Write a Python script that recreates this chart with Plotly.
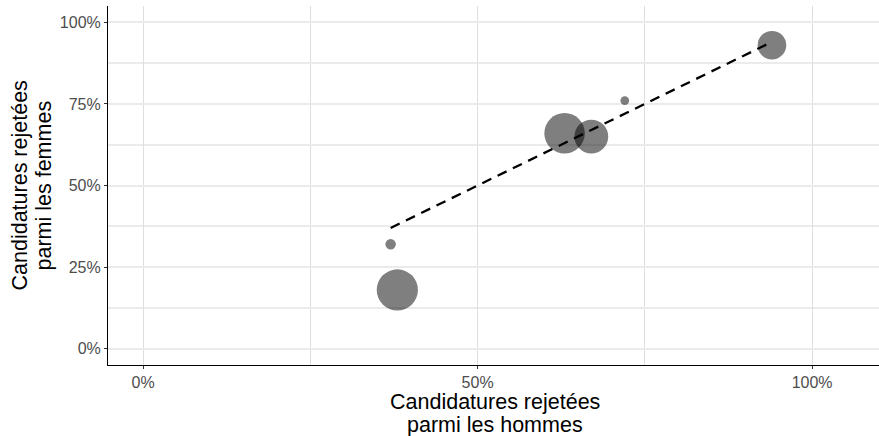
import math
import plotly.graph_objects as go

# Data (UC Berkeley-like admissions by department)
departments = ["A", "B", "C", "D", "E", "F"]
rejected_men = [0.38, 0.37, 0.63, 0.67, 0.72, 0.94]
rejected_women = [0.18, 0.32, 0.66, 0.65, 0.76, 0.93]
applicants = [933, 585, 918, 792, 584, 714]

x_ticks = [0, 0.5, 1.0]
x_tick_labels = ["0%", "50%", "100%"]
y_ticks = [0, 0.25, 0.5, 0.75, 1.0]
y_tick_labels = ["0%", "25%", "50%", "75%", "100%"]

x_title_lines = ["Candidatures rejetées", "parmi les hommes"]
y_title_lines = ["Candidatures rejetées", "parmi les femmes"]

# ggplot-like area size scale (range 1..6) -> pixel diameter
nmin, nmax = min(applicants), max(applicants)
gg_size = [1 + 5 * math.sqrt((n - nmin) / (nmax - nmin)) for n in applicants]
diam = [6.5 * s + 2.2 for s in gg_size]

fig = go.Figure()

# identity reference segment over the observed range of men's rejection
lo, hi = min(rejected_men), max(rejected_men)
fig.add_trace(go.Scatter(
    x=[lo, hi], y=[lo, hi], mode="lines",
    line=dict(color="black", width=2.3, dash="10px,7px"),
    hoverinfo="skip", showlegend=False,
))

fig.add_trace(go.Scatter(
    x=rejected_men, y=rejected_women, mode="markers",
    text=departments,
    marker=dict(size=diam, color="black", opacity=0.5, line=dict(width=0)),
    showlegend=False,
))

tick_font = dict(family="Liberation Sans, Arial, sans-serif", size=16, color="#4d4d4d")
title_font = dict(family="Liberation Sans, Arial, sans-serif", size=21.5, color="black")

fig.update_layout(
    width=879, height=436,
    margin=dict(l=108, r=0, t=6, b=71),
    paper_bgcolor="white", plot_bgcolor="white",
    xaxis=dict(
        range=[-0.0525, 1.1], tickvals=x_ticks, ticktext=x_tick_labels,
        showline=True, linecolor="black", linewidth=1.1,
        ticks="outside", ticklen=3, tickcolor="#333333", tickwidth=1,
        showgrid=True, gridcolor="#dedede", gridwidth=0.9,
        minor=dict(tickvals=[0.25, 0.75], showgrid=True, gridcolor="#dedede", gridwidth=0.9),
        zeroline=False, tickfont=tick_font, fixedrange=True,
    ),
    yaxis=dict(
        range=[-0.05, 1.05], tickvals=y_ticks, ticktext=y_tick_labels,
        showline=True, linecolor="black", linewidth=1.1,
        ticks="outside", ticklen=3, tickcolor="#333333", tickwidth=1,
        showgrid=True, gridcolor="#ebebeb", gridwidth=1.6,
        minor=dict(tickvals=[0.125, 0.375, 0.625, 0.875], showgrid=True,
                   gridcolor="#ebebeb", gridwidth=1.6),
        zeroline=False, tickfont=tick_font, fixedrange=True,
    ),
)

plot_left, plot_right, plot_top, plot_bottom = 108, 879, 6, 365
pw = plot_right - plot_left
ph = plot_bottom - plot_top

# x axis title lines (pixel centres -> paper coords)
for line, ypix in zip(x_title_lines, [402, 425]):
    fig.add_annotation(
        text=line, xref="paper", yref="paper",
        x=(494.5 - plot_left) / pw, y=(plot_bottom - ypix) / ph,
        xanchor="center", yanchor="middle", showarrow=False, font=title_font,
    )

# y axis title lines (rotated)
for line, xpix in zip(y_title_lines, [19, 43]):
    fig.add_annotation(
        text=line, xref="paper", yref="paper",
        x=(xpix - plot_left) / pw, y=0.5,
        xanchor="center", yanchor="middle", textangle=-90,
        showarrow=False, font=title_font,
    )

fig.write_html(
    "out.html",
    config={"displayModeBar": False},
    post_script="document.body.style.margin='0';document.body.style.overflow='hidden';",
)
